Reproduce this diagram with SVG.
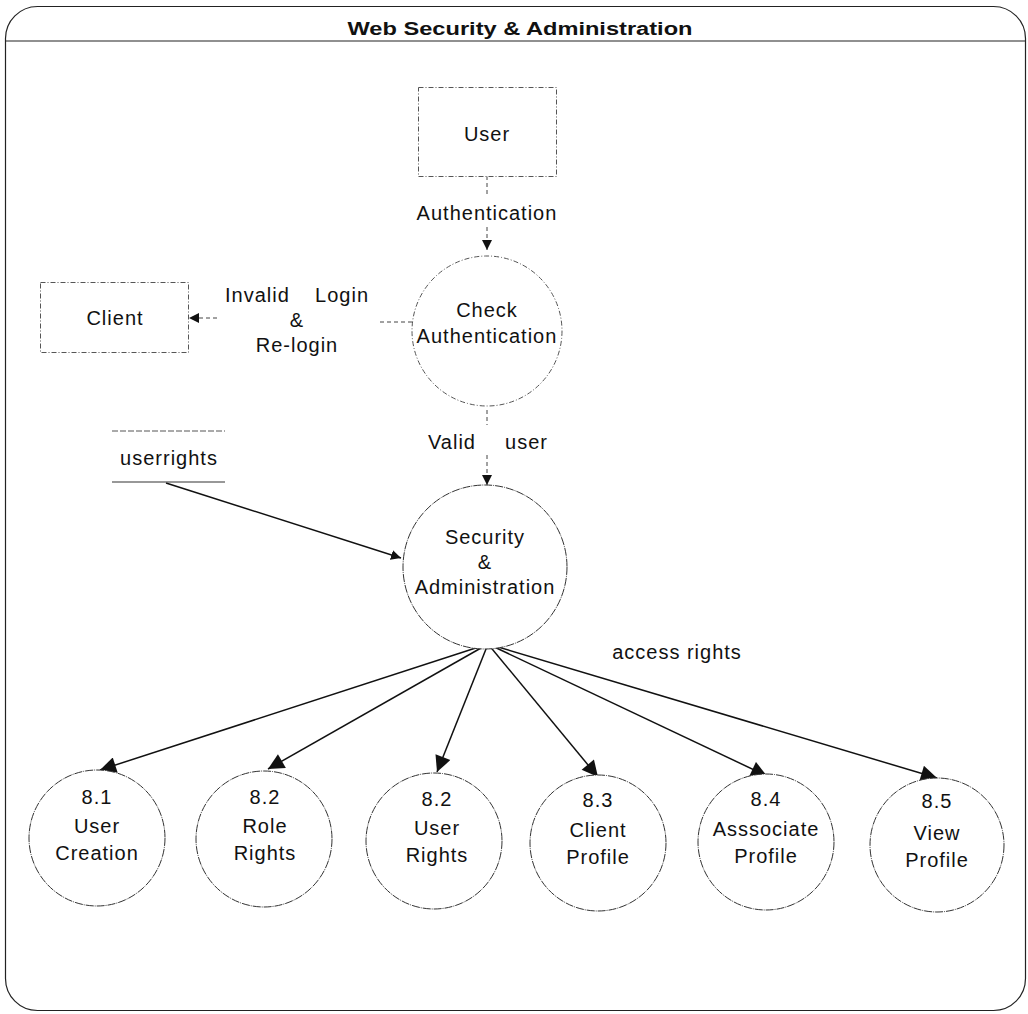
<svg xmlns="http://www.w3.org/2000/svg" width="1028" height="1014" viewBox="0 0 1028 1014">
  <style>
    text { font-family: "Liberation Sans", Arial, sans-serif; fill: #111; text-anchor: middle; }
    .lbl { font-size: 20px; letter-spacing: 1px; }
    .st { text-anchor: start; }
    .en { text-anchor: end; }
    .title { font-size: 18px; font-weight: bold; }
    .dash { fill: #fff; stroke: #555; stroke-width: 1; stroke-dasharray: 5 2 1 2; }
    .proc { fill: #fff; stroke: #333; stroke-width: 1; stroke-dasharray: 8 1 1 1; }
    .flow { stroke: #111; stroke-width: 1.5; fill: none; }
    .dflow { stroke: #444; stroke-width: 1; fill: none; stroke-dasharray: 4 3; }
  </style>
  <defs>
    <marker id="arr" viewBox="0 0 10 10" refX="10" refY="5" markerWidth="10" markerHeight="10" markerUnits="userSpaceOnUse" orient="auto">
      <path d="M0,0 L10,5 L0,10 z" fill="#111"/>
    </marker>
    <marker id="big" viewBox="0 0 10 10" refX="10" refY="5" markerWidth="18" markerHeight="16" markerUnits="userSpaceOnUse" orient="auto">
      <path d="M0,0 L10,5 L0,10 z" fill="#111"/>
    </marker>
  </defs>

  <rect width="1028" height="1014" fill="#fff"/>

  <!-- frame with title bar -->
  <g id="frame">
    <rect x="5.5" y="6.5" width="1020" height="1004" rx="32" ry="32" fill="none" stroke="#222" stroke-width="1.2"/>
    <line x1="6" y1="41" x2="1025" y2="41" stroke="#222" stroke-width="1.2"/>
    <text class="title" x="520" y="35" textLength="345" lengthAdjust="spacingAndGlyphs">Web Security &amp; Administration</text>
  </g>

  <!-- connectors -->
  <g id="connectors">
    <path class="dflow" d="M487,176 V196"/>
    <line class="dflow" x1="487" y1="227" x2="487" y2="250" marker-end="url(#arr)"/>
    <text class="lbl" x="487" y="220">Authentication</text>

    <path class="dflow" d="M412,322 H377"/>
    <line class="dflow" x1="217" y1="318" x2="189" y2="318" marker-end="url(#arr)"/>
    <text class="lbl st" x="225" y="302">Invalid</text>
    <text class="lbl en" x="369" y="302">Login</text>
    <text class="lbl" x="297" y="327">&amp;</text>
    <text class="lbl" x="297" y="352">Re-login</text>

    <path class="dflow" d="M487,410 V425"/>
    <line class="dflow" x1="487" y1="455" x2="487" y2="485" marker-end="url(#arr)"/>
    <text class="lbl st" x="428" y="449">Valid</text>
    <text class="lbl en" x="548" y="449">user</text>

    <line class="flow" x1="166" y1="483" x2="401" y2="558" marker-end="url(#arr)"/>

    <line class="flow" x1="488" y1="644" x2="100" y2="770" marker-end="url(#big)"/>
    <line class="flow" x1="488" y1="644" x2="268" y2="769" marker-end="url(#big)"/>
    <line class="flow" x1="488" y1="644" x2="437" y2="772" marker-end="url(#big)"/>
    <line class="flow" x1="488" y1="644" x2="598" y2="777" marker-end="url(#big)"/>
    <line class="flow" x1="488" y1="644" x2="767" y2="776" marker-end="url(#big)"/>
    <line class="flow" x1="488" y1="644" x2="937" y2="778" marker-end="url(#big)"/>
    <text class="lbl" x="677" y="659">access rights</text>
  </g>

  <!-- external entities -->
  <g id="user">
    <rect class="dash" x="418.5" y="87.5" width="138" height="89"/>
    <text class="lbl" x="487" y="141">User</text>
  </g>
  <g id="client">
    <rect class="dash" x="40.5" y="282.5" width="148" height="70"/>
    <text class="lbl" x="115" y="325">Client</text>
  </g>

  <!-- data store -->
  <g id="userrights">
    <line x1="112" y1="431" x2="225" y2="431" stroke="#555" stroke-width="1" stroke-dasharray="6 2"/>
    <line x1="112" y1="482" x2="225" y2="482" stroke="#333" stroke-width="1.2"/>
    <text class="lbl" x="169" y="465">userrights</text>
  </g>

  <!-- processes -->
  <g id="check-auth">
    <circle class="dash" cx="487" cy="331" r="75"/>
    <text class="lbl" x="487" y="317">Check</text>
    <text class="lbl" x="487" y="343">Authentication</text>
  </g>
  <g id="sec-admin">
    <circle class="proc" cx="485" cy="567" r="82"/>
    <text class="lbl" x="485" y="544">Security</text>
    <text class="lbl" x="485" y="569">&amp;</text>
    <text class="lbl" x="485" y="594">Administration</text>
  </g>

  <g id="p81">
    <circle class="proc" cx="97" cy="838" r="68"/>
    <text class="lbl" x="97" y="804">8.1</text>
    <text class="lbl" x="97" y="833">User</text>
    <text class="lbl" x="97" y="860">Creation</text>
  </g>
  <g id="p82a">
    <circle class="proc" cx="264" cy="839" r="68"/>
    <text class="lbl" x="265" y="804">8.2</text>
    <text class="lbl" x="265" y="833">Role</text>
    <text class="lbl" x="265" y="860">Rights</text>
  </g>
  <g id="p82b">
    <circle class="proc" cx="434" cy="841" r="68"/>
    <text class="lbl" x="437" y="806">8.2</text>
    <text class="lbl" x="437" y="835">User</text>
    <text class="lbl" x="437" y="862">Rights</text>
  </g>
  <g id="p83">
    <circle class="proc" cx="598" cy="843" r="68"/>
    <text class="lbl" x="598" y="807">8.3</text>
    <text class="lbl" x="598" y="837">Client</text>
    <text class="lbl" x="598" y="864">Profile</text>
  </g>
  <g id="p84">
    <circle class="proc" cx="766" cy="842" r="68"/>
    <text class="lbl" x="766" y="806">8.4</text>
    <text class="lbl" x="766" y="836">Asssociate</text>
    <text class="lbl" x="766" y="863">Profile</text>
  </g>
  <g id="p85">
    <circle class="proc" cx="937" cy="845" r="67"/>
    <text class="lbl" x="937" y="808">8.5</text>
    <text class="lbl" x="937" y="840">View</text>
    <text class="lbl" x="937" y="867">Profile</text>
  </g>
</svg>
